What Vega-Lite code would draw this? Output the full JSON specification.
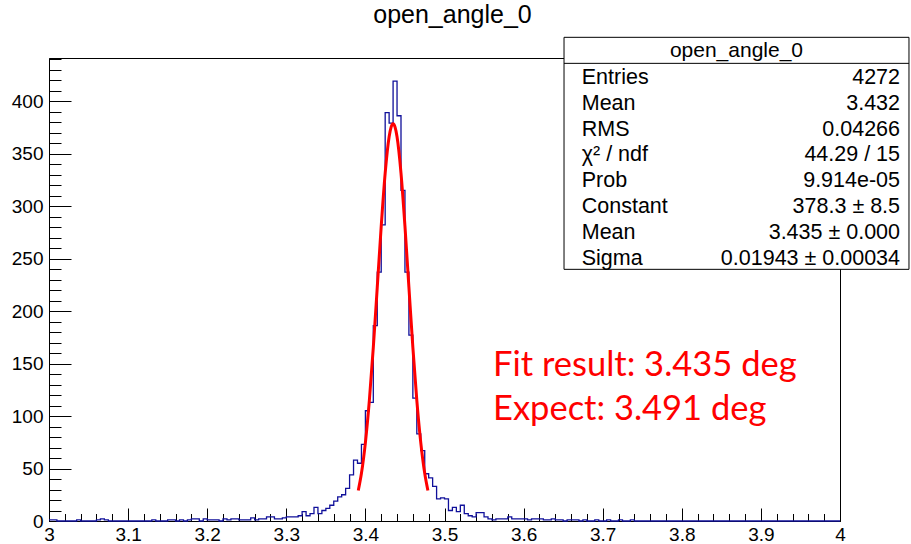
{
  "$schema": "https://vega.github.io/schema/vega-lite/v6.json",
  "width": 791,
  "height": 463,
  "autosize": {"type": "none"},
  "padding": {"left": 49, "top": 58, "right": 71, "bottom": 23},
  "background": "white",
  "config": {
    "view": {"stroke": "black", "strokeWidth": 1},
    "axis": {"domainColor": "black", "tickColor": "black", "labelColor": "black", "labelFont": "Liberation Sans", "labelFontSize": 19, "grid": false, "domainWidth": 1, "tickWidth": 1, "labelOverlap": false, "labelFlush": false, "labelBound": false}
  },
  "title": {"text": "open_angle_0", "font": "Liberation Sans", "fontSize": 25, "fontWeight": "normal", "color": "black", "anchor": "middle", "baseline": "alphabetic", "offset": -11, "dx": 8},
  "datasets": {
    "hist": [
      {"x":3.000,"n":1},{"x":3.005,"n":1},{"x":3.010,"n":0},{"x":3.015,"n":0},{"x":3.020,"n":0},{"x":3.025,"n":0},{"x":3.030,"n":0},{"x":3.035,"n":1},{"x":3.040,"n":0},{"x":3.045,"n":0},
      {"x":3.050,"n":0},{"x":3.055,"n":0},{"x":3.060,"n":1},{"x":3.065,"n":2},{"x":3.070,"n":1},{"x":3.075,"n":0},{"x":3.080,"n":0},{"x":3.085,"n":0},{"x":3.090,"n":0},{"x":3.095,"n":0},
      {"x":3.100,"n":0},{"x":3.105,"n":0},{"x":3.110,"n":0},{"x":3.115,"n":0},{"x":3.120,"n":0},{"x":3.125,"n":0},{"x":3.130,"n":1},{"x":3.135,"n":0},{"x":3.140,"n":0},{"x":3.145,"n":0},
      {"x":3.150,"n":1},{"x":3.155,"n":1},{"x":3.160,"n":0},{"x":3.165,"n":1},{"x":3.170,"n":0},{"x":3.175,"n":1},{"x":3.180,"n":2},{"x":3.185,"n":2},{"x":3.190,"n":0},{"x":3.195,"n":2},
      {"x":3.200,"n":1},{"x":3.205,"n":1},{"x":3.210,"n":1},{"x":3.215,"n":0},{"x":3.220,"n":2},{"x":3.225,"n":1},{"x":3.230,"n":2},{"x":3.235,"n":2},{"x":3.240,"n":1},{"x":3.245,"n":1},
      {"x":3.250,"n":1},{"x":3.255,"n":3},{"x":3.260,"n":1},{"x":3.265,"n":2},{"x":3.270,"n":2},{"x":3.275,"n":4},{"x":3.280,"n":4},{"x":3.285,"n":2},{"x":3.290,"n":2},{"x":3.295,"n":3},
      {"x":3.300,"n":4},{"x":3.305,"n":4},{"x":3.310,"n":4},{"x":3.315,"n":5},{"x":3.320,"n":9},{"x":3.325,"n":5},{"x":3.330,"n":7},{"x":3.335,"n":13},{"x":3.340,"n":7},{"x":3.345,"n":10},
      {"x":3.350,"n":12},{"x":3.355,"n":15},{"x":3.360,"n":19},{"x":3.365,"n":23},{"x":3.370,"n":25},{"x":3.375,"n":31},{"x":3.380,"n":44},{"x":3.385,"n":58},{"x":3.390,"n":55},{"x":3.395,"n":73},
      {"x":3.400,"n":105},{"x":3.405,"n":113},{"x":3.410,"n":186},{"x":3.415,"n":237},{"x":3.420,"n":282},{"x":3.425,"n":389},{"x":3.430,"n":379},{"x":3.435,"n":419},{"x":3.440,"n":386},{"x":3.445,"n":315},
      {"x":3.450,"n":237},{"x":3.455,"n":177},{"x":3.460,"n":117},{"x":3.465,"n":83},{"x":3.470,"n":67},{"x":3.475,"n":45},{"x":3.480,"n":41},{"x":3.485,"n":33},{"x":3.490,"n":21},{"x":3.495,"n":22},
      {"x":3.500,"n":21},{"x":3.505,"n":10},{"x":3.510,"n":13},{"x":3.515,"n":9},{"x":3.520,"n":15},{"x":3.525,"n":7},{"x":3.530,"n":5},{"x":3.535,"n":4},{"x":3.540,"n":8},{"x":3.545,"n":8},
      {"x":3.550,"n":4},{"x":3.555,"n":2},{"x":3.560,"n":1},{"x":3.565,"n":2},{"x":3.570,"n":2},{"x":3.575,"n":2},{"x":3.580,"n":4},{"x":3.585,"n":2},{"x":3.590,"n":2},{"x":3.595,"n":2},
      {"x":3.600,"n":2},{"x":3.605,"n":1},{"x":3.610,"n":2},{"x":3.615,"n":2},{"x":3.620,"n":2},{"x":3.625,"n":1},{"x":3.630,"n":1},{"x":3.635,"n":2},{"x":3.640,"n":1},{"x":3.645,"n":1},
      {"x":3.650,"n":0},{"x":3.655,"n":1},{"x":3.660,"n":1},{"x":3.665,"n":1},{"x":3.670,"n":0},{"x":3.675,"n":1},{"x":3.680,"n":0},{"x":3.685,"n":0},{"x":3.690,"n":1},{"x":3.695,"n":0},
      {"x":3.700,"n":0},{"x":3.705,"n":1},{"x":3.710,"n":0},{"x":3.715,"n":0},{"x":3.720,"n":1},{"x":3.725,"n":0},{"x":3.730,"n":0},{"x":3.735,"n":1},{"x":3.740,"n":0},{"x":3.745,"n":0},
      {"x":3.750,"n":0},{"x":3.755,"n":0},{"x":3.760,"n":0},{"x":3.765,"n":0},{"x":3.770,"n":0},{"x":3.775,"n":0},{"x":3.780,"n":0},{"x":3.785,"n":0},{"x":3.790,"n":0},{"x":3.795,"n":0},
      {"x":3.800,"n":0},{"x":3.805,"n":0},{"x":3.810,"n":0},{"x":3.815,"n":0},{"x":3.820,"n":0},{"x":3.825,"n":0},{"x":3.830,"n":0},{"x":3.835,"n":0},{"x":3.840,"n":0},{"x":3.845,"n":0},
      {"x":3.850,"n":0},{"x":3.855,"n":0},{"x":3.860,"n":0},{"x":3.865,"n":0},{"x":3.870,"n":0},{"x":3.875,"n":0},{"x":3.880,"n":0},{"x":3.885,"n":0},{"x":3.890,"n":0},{"x":3.895,"n":0},
      {"x":3.900,"n":0},{"x":3.905,"n":0},{"x":3.910,"n":0},{"x":3.915,"n":0},{"x":3.920,"n":0},{"x":3.925,"n":0},{"x":3.930,"n":0},{"x":3.935,"n":0},{"x":3.940,"n":0},{"x":3.945,"n":0},
      {"x":3.950,"n":0},{"x":3.955,"n":0},{"x":3.960,"n":0},{"x":3.965,"n":0},{"x":3.970,"n":0},{"x":3.975,"n":0},{"x":3.980,"n":0},{"x":3.985,"n":0},{"x":3.990,"n":0},{"x":3.995,"n":0},
      {"x":4.000,"n":0}
    ],
    "fit": [
      {"x":3.391,"f":29.1},{"x":3.395,"f":45.4},{"x":3.400,"f":74.7},{"x":3.405,"f":114.9},{"x":3.410,"f":165.3},{"x":3.415,"f":222.7},{"x":3.420,"f":280.8},{"x":3.425,"f":331.4},{"x":3.430,"f":366.0},{"x":3.4325,"f":375.2},
      {"x":3.435,"f":378.3},{"x":3.4375,"f":375.2},{"x":3.440,"f":366.0},{"x":3.445,"f":331.4},{"x":3.450,"f":280.8},{"x":3.455,"f":222.7},{"x":3.460,"f":165.3},{"x":3.465,"f":114.9},{"x":3.470,"f":74.7},{"x":3.475,"f":45.4},{"x":3.479,"f":29.1}
    ],
    "stats": [
      {"k":"Entries","v":"4272","y":422.2},
      {"k":"Mean","v":"3.432","y":397.4},
      {"k":"RMS","v":"0.04266","y":372.8},
      {"k":"χ² / ndf","v":"44.29 / 15","y":348.3},
      {"k":"Prob","v":"9.914e-05","y":323.6},
      {"k":"Constant","v":"378.3 ± 8.5","y":299.0},
      {"k":"Mean","v":"3.435 ± 0.000","y":274.2},
      {"k":"Sigma","v":"0.01943 ± 0.00034","y":249.6}
    ],
    "notes": [
      {"t":"Fit result: 3.435 deg","y":138},
      {"t":"Expect: 3.491 deg","y":96}
    ]
  },
  "layer": [
    {
      "data": {"name": "hist"},
      "mark": {"type": "line", "interpolate": "step-after", "color": "#10109a", "strokeWidth": 1.3},
      "encoding": {
        "x": {"field": "x", "type": "quantitative", "scale": {"domain": [3, 4], "nice": false, "zero": false},
          "axis": {"orient": "bottom", "title": null, "values": [3, 3.1, 3.2, 3.3, 3.4, 3.5, 3.6, 3.7, 3.8, 3.9, 4], "format": "~g", "tickSize": -13, "labelPadding": 17}},
        "y": {"field": "n", "type": "quantitative", "scale": {"domain": [0, 441], "nice": false},
          "axis": {"orient": "left", "title": null, "values": [0, 50, 100, 150, 200, 250, 300, 350, 400], "tickSize": -22, "labelPadding": 28}}
      }
    },
    {
      "data": {"name": "fit"},
      "mark": {"type": "line", "interpolate": "monotone", "color": "#ff0000", "strokeWidth": 3},
      "encoding": {
        "x": {"field": "x", "type": "quantitative", "scale": {"domain": [3, 4], "nice": false, "zero": false},
          "axis": {"orient": "bottom", "title": null, "values": [3, 3.02, 3.04, 3.06, 3.08, 3.1, 3.12, 3.14, 3.16, 3.18, 3.2, 3.22, 3.24, 3.26, 3.28, 3.3, 3.32, 3.34, 3.36, 3.38, 3.4, 3.42, 3.44, 3.46, 3.48, 3.5, 3.52, 3.54, 3.56, 3.58, 3.6, 3.62, 3.64, 3.66, 3.68, 3.7, 3.72, 3.74, 3.76, 3.78, 3.8, 3.82, 3.84, 3.86, 3.88, 3.9, 3.92, 3.94, 3.96, 3.98, 4], "tickSize": -7.5, "labels": false, "domain": false}},
        "y": {"field": "f", "type": "quantitative", "scale": {"domain": [0, 441], "nice": false},
          "axis": {"orient": "left", "title": null, "values": [0, 10, 20, 30, 40, 50, 60, 70, 80, 90, 100, 110, 120, 130, 140, 150, 160, 170, 180, 190, 200, 210, 220, 230, 240, 250, 260, 270, 280, 290, 300, 310, 320, 330, 340, 350, 360, 370, 380, 390, 400, 410, 420, 430, 440], "tickSize": -12, "labels": false, "domain": false}}
      }
    },
    {
      "data": {"values": [{}]},
      "mark": {"type": "rect", "fill": "white", "stroke": "black", "strokeWidth": 1},
      "encoding": {
        "x": {"datum": 3.6511, "type": "quantitative", "scale": {"domain": [3, 4], "nice": false, "zero": false}, "axis": null},
        "x2": {"datum": 4.0872},
        "y": {"datum": 239.7, "type": "quantitative", "scale": {"domain": [0, 441], "nice": false}, "axis": null},
        "y2": {"datum": 460.7}
      }
    },
    {
      "data": {"values": [{}]},
      "mark": {"type": "rule", "color": "black", "strokeWidth": 1},
      "encoding": {
        "x": {"datum": 3.6511, "type": "quantitative", "scale": {"domain": [3, 4], "nice": false, "zero": false}, "axis": null},
        "x2": {"datum": 4.0872},
        "y": {"datum": 435.9, "type": "quantitative", "scale": {"domain": [0, 441], "nice": false}, "axis": null}
      }
    },
    {
      "data": {"values": [{"h": "open_angle_0"}]},
      "mark": {"type": "text", "font": "Liberation Sans", "fontSize": 21, "align": "center", "baseline": "middle", "color": "black"},
      "encoding": {
        "text": {"field": "h"},
        "x": {"datum": 3.8691, "type": "quantitative", "scale": {"domain": [3, 4], "nice": false, "zero": false}, "axis": null},
        "y": {"datum": 447.2, "type": "quantitative", "scale": {"domain": [0, 441], "nice": false}, "axis": null}
      }
    },
    {
      "data": {"name": "stats"},
      "mark": {"type": "text", "font": "Liberation Sans", "fontSize": 21.5, "align": "left", "baseline": "middle", "color": "black"},
      "encoding": {
        "text": {"field": "k"},
        "x": {"datum": 3.6735, "type": "quantitative", "scale": {"domain": [3, 4], "nice": false, "zero": false}, "axis": null},
        "y": {"field": "y", "type": "quantitative", "scale": {"domain": [0, 441], "nice": false}, "axis": null}
      }
    },
    {
      "data": {"name": "stats"},
      "mark": {"type": "text", "font": "Liberation Sans", "fontSize": 21.5, "align": "right", "baseline": "middle", "color": "black"},
      "encoding": {
        "text": {"field": "v"},
        "x": {"datum": 4.0759, "type": "quantitative", "scale": {"domain": [3, 4], "nice": false, "zero": false}, "axis": null},
        "y": {"field": "y", "type": "quantitative", "scale": {"domain": [0, 441], "nice": false}, "axis": null}
      }
    },
    {
      "data": {"name": "notes"},
      "mark": {"type": "text", "font": "Lato", "fontSize": 34.5, "align": "left", "baseline": "alphabetic", "color": "#ff0000"},
      "encoding": {
        "text": {"field": "t"},
        "x": {"datum": 3.5613, "type": "quantitative", "scale": {"domain": [3, 4], "nice": false, "zero": false}, "axis": null},
        "y": {"field": "y", "type": "quantitative", "scale": {"domain": [0, 441], "nice": false}, "axis": null}
      }
    }
  ],
  "resolve": {"axis": {"x": "independent", "y": "independent"}}
}
